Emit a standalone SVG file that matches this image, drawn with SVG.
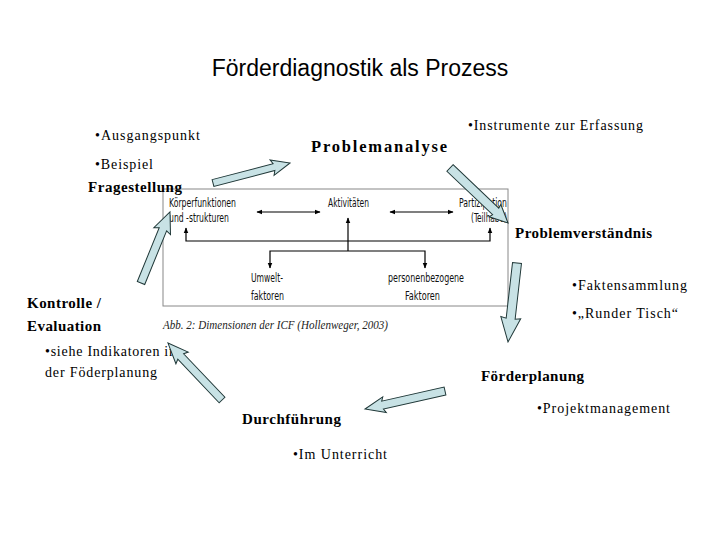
<svg xmlns="http://www.w3.org/2000/svg" width="720" height="540" viewBox="0 0 720 540">
<style>
.title{font-family:"Liberation Sans",Arial,sans-serif;font-size:23px;fill:#000}
.t{font-family:"Liberation Serif","Times New Roman",serif;font-size:14px;fill:#000}
.b{font-family:"Liberation Serif","Times New Roman",serif;font-size:15px;font-weight:bold;fill:#000}
.icf{font-family:"Liberation Sans Narrow","DejaVu Sans Condensed",sans-serif;font-size:12px;fill:#111}
.cap{font-family:"Liberation Serif","Times New Roman",serif;font-size:12.5px;font-style:italic;fill:#222}
.blk{fill:#c8e2e5;stroke:#203838;stroke-width:1}
.ln{stroke:#000;stroke-width:1.2;fill:none}
</style>
<defs>
<marker id="ah" viewBox="0 0 10 10" refX="9" refY="5" markerWidth="6" markerHeight="6" orient="auto-start-reverse" markerUnits="userSpaceOnUse">
<path d="M0,1 L10,5 L0,9 Z" fill="#000"/>
</marker>
</defs>
<rect width="720" height="540" fill="#fff"/>
<text class="title" x="360" y="76" text-anchor="middle">Förderdiagnostik als Prozess</text>

<g id="icf-figure">
<rect x="163" y="189" width="345" height="117" fill="#fff" stroke="#888" stroke-width="1"/>
<text class="icf" x="169" y="207" textLength="67" lengthAdjust="spacingAndGlyphs">Körperfunktionen</text>
<text class="icf" x="169" y="222" textLength="60" lengthAdjust="spacingAndGlyphs">und -strukturen</text>
<text class="icf" x="328" y="207" textLength="41" lengthAdjust="spacingAndGlyphs">Aktivitäten</text>
<text class="icf" x="459" y="207" textLength="48" lengthAdjust="spacingAndGlyphs">Partizipation</text>
<text class="icf" x="471" y="222" textLength="36" lengthAdjust="spacingAndGlyphs">(Teilhabe)</text>
<text class="icf" x="251" y="282" textLength="32" lengthAdjust="spacingAndGlyphs">Umwelt-</text>
<text class="icf" x="251" y="300" textLength="33" lengthAdjust="spacingAndGlyphs">faktoren</text>
<text class="icf" x="388" y="282" textLength="76" lengthAdjust="spacingAndGlyphs">personenbezogene</text>
<text class="icf" x="405" y="300" textLength="35" lengthAdjust="spacingAndGlyphs">Faktoren</text>
<line class="ln" x1="257" y1="212" x2="320" y2="212" marker-start="url(#ah)" marker-end="url(#ah)"/>
<line class="ln" x1="390" y1="212" x2="453" y2="212" marker-start="url(#ah)" marker-end="url(#ah)"/>
<line class="ln" x1="348" y1="251" x2="348" y2="218" marker-end="url(#ah)"/>
<polyline class="ln" points="186,228 186,241 490,241 490,228" marker-start="url(#ah)" marker-end="url(#ah)"/>
<polyline class="ln" points="270,268 270,251 425,251 425,268" marker-start="url(#ah)" marker-end="url(#ah)"/>
<text class="cap" x="163" y="329" textLength="225" lengthAdjust="spacingAndGlyphs">Abb. 2: Dimensionen der ICF (Hollenweger, 2003)</text>
</g>

<g id="node-fragestellung">
<text class="t" x="95" y="140" textLength="105" lengthAdjust="spacing">•Ausgangspunkt</text>
<text class="t" x="95" y="169" textLength="58" lengthAdjust="spacing">•Beispiel</text>
<text class="b" x="88" y="192" textLength="94" lengthAdjust="spacing">Fragestellung</text>
</g>
<g id="node-problemanalyse">
<text class="b" x="311" y="152" style="font-size:16.5px" textLength="136" lengthAdjust="spacing">Problemanalyse</text>
<text class="t" x="468" y="130" textLength="175" lengthAdjust="spacing">•Instrumente zur Erfassung</text>
</g>
<g id="node-problemverstaendnis">
<text class="b" x="515" y="238" textLength="137" lengthAdjust="spacing">Problemverständnis</text>
<text class="t" x="572" y="290" textLength="115" lengthAdjust="spacing">•Faktensammlung</text>
<text class="t" x="572" y="318" textLength="106" lengthAdjust="spacing">•„Runder Tisch“</text>
</g>
<g id="node-foerderplanung">
<text class="b" x="481" y="381" textLength="103" lengthAdjust="spacing">Förderplanung</text>
<text class="t" x="537" y="413" textLength="133" lengthAdjust="spacing">•Projektmanagement</text>
</g>
<g id="node-durchfuehrung">
<text class="b" x="242" y="424" textLength="99" lengthAdjust="spacing">Durchführung</text>
<text class="t" x="293" y="459" textLength="94" lengthAdjust="spacing">•Im Unterricht</text>
</g>
<g id="node-kontrolle">
<text class="b" x="27" y="308" textLength="74" lengthAdjust="spacing">Kontrolle /</text>
<text class="b" x="27" y="331" textLength="74" lengthAdjust="spacing">Evaluation</text>
<text class="t" x="45" y="356" textLength="131" lengthAdjust="spacing">•siehe Indikatoren in</text>
<text class="t" x="45" y="377" textLength="112" lengthAdjust="spacing">der Föderplanung</text>
</g>

<g id="connectors">
<path class="blk" transform="translate(213,183) rotate(-14.56)" d="M0,-3.5 L63,-3.5 L61,-8 L79.6,0 L61,8 L63,3.5 L0,3.5 Z"/>
<path class="blk" transform="translate(450,168) rotate(43.5)" d="M0,-4.5 L63,-4.5 L62,-8.5 L80,0 L62,8.5 L63,4.5 L0,4.5 Z"/>
<path class="blk" transform="translate(517,263) rotate(96.5)" d="M0,-4.5 L56,-4.5 L55,-10 L79.5,0 L55,10 L56,4.5 L0,4.5 Z"/>
<path class="blk" transform="translate(445,391) rotate(167.3)" d="M0,-4 L64,-4 L62,-8 L82,0 L62,8 L64,4 L0,4 Z"/>
<path class="blk" transform="translate(222,400) rotate(-133.5)" d="M0,-4 L60,-4 L58,-8.5 L78.5,0 L58,8.5 L60,4 L0,4 Z"/>
<path class="blk" transform="translate(141,283) rotate(-67.8)" d="M0,-4 L58,-4 L56,-9 L76.7,0 L56,9 L58,4 L0,4 Z"/>
</g>
</svg>
